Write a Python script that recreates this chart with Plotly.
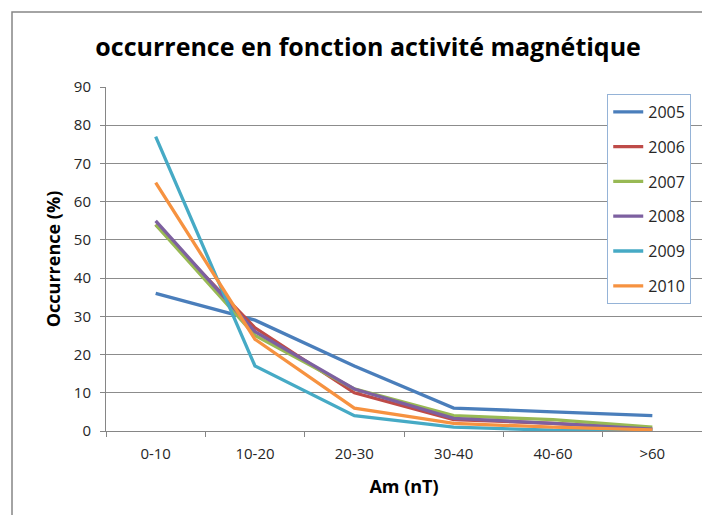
import plotly.graph_objects as go

# classes d'activité magnétique
categories = ['0-10', '10-20', '20-30', '30-40', '40-60', '>60']
years = ['2005', '2006', '2007', '2008', '2009', '2010']

occ_2005 = [36, 29, 17, 6, 5, 4]
occ_2006 = [54, 27, 10, 3, 2, 0.5]
occ_2007 = [54, 25, 11, 4, 3, 1]
occ_2008 = [55, 26, 11, 3.3, 2, 0.5]
occ_2009 = [77, 17, 4, 1, 0.2, 0]
occ_2010 = [65, 24, 6, 2, 1, 0.3]

series = [occ_2005, occ_2006, occ_2007, occ_2008, occ_2009, occ_2010]
colors = ['#4A7EBB', '#BE4B48', '#98B954', '#7D60A0', '#46AAC5', '#F69240']

fig = go.Figure()
for i, (yr, vals) in enumerate(zip(years, series)):
    fig.add_trace(go.Scatter(
        x=categories, y=vals, name=yr, mode='lines',
        line=dict(color=colors[i], width=3.3),
        legendgroup=yr,
    ))

# la page html ajoute 8px de marge au body
fig.update_layout(
    width=702, height=507,
    margin=dict(l=98, r=8, t=79, b=84),
    paper_bgcolor='white', plot_bgcolor='white',
    font=dict(family='Open Sans, sans-serif', size=15, color='#262626'),
    title=dict(text='<b>occurrence en fonction activité magnétique</b>',
               x=0.513, xref='container', y=0.923, yref='container',
               xanchor='center', yanchor='middle',
               font=dict(size=25, color='black')),
    showlegend=True,
    legend=dict(x=0.841, y=0.98, xanchor='left', yanchor='top',
                bordercolor='#95B3D7', borderwidth=1, bgcolor='white',
                tracegroupgap=11, font=dict(size=16, color='#262626')),
    shapes=[dict(type='rect', xref='paper', yref='paper',
                 x0=-0.1577, x1=1.05, y0=-0.3, y1=1.218,
                 line=dict(color='#868686', width=1.5))],
)

fig.update_xaxes(
    type='category', tickson='boundaries', ticks='outside', ticklen=5,
    tickcolor='#868686', showline=True, linecolor='#868686', linewidth=1,
    showgrid=False, range=[-0.5, 5.5], ticklabelstandoff=9,
    title=dict(text='<b>Am (nT)</b>', font=dict(size=18, color='black'), standoff=18),
)
fig.update_yaxes(
    range=[0, 90], dtick=10, ticks='outside', ticklen=5, tickcolor='#868686',
    showline=True, linecolor='#868686', linewidth=1, ticklabelstandoff=6,
    showgrid=True, gridcolor='#8C8C8C', gridwidth=1, zeroline=False,
    title=dict(text='<b>Occurrence (%)</b>', font=dict(size=18, color='black'), standoff=8),
)

fig.write_html('out.html')
